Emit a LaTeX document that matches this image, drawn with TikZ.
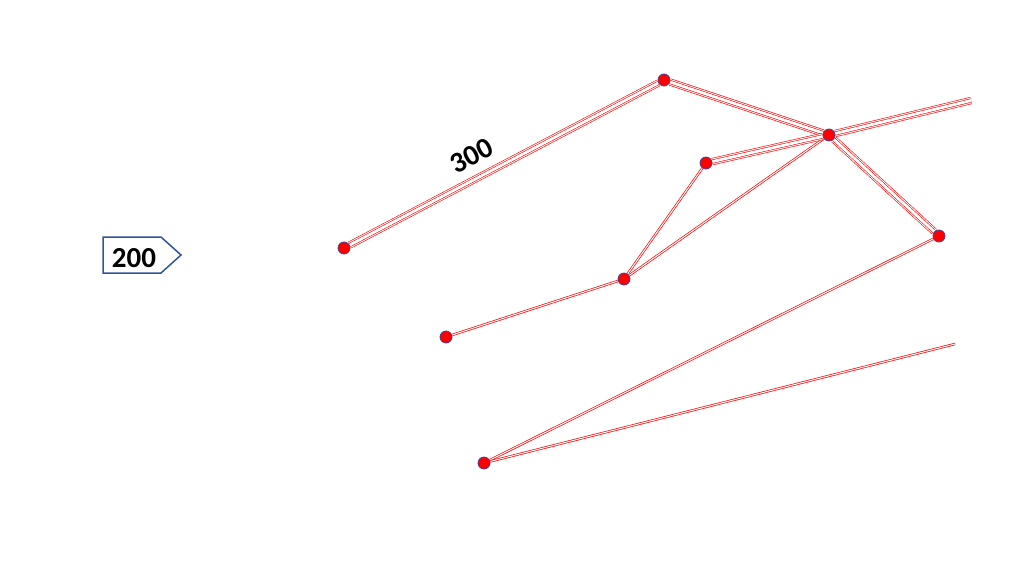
\documentclass[tikz,border=0pt]{standalone}
\usepackage{fontspec}
\setmainfont{Carlito}
\usetikzlibrary{backgrounds}
\definecolor{boxblue}{HTML}{2F5597}
\definecolor{dotedge}{HTML}{4A3F8C}
\tikzset{
  pt/.style={circle, fill=red, draw=dotedge, line width=0.8pt, minimum size=12pt, inner sep=0pt},
  wideline/.style={preaction={draw=red, line width=7.2pt},
                   preaction={draw=white, line width=6pt},
                   preaction={draw=red, line width=4pt},
                   draw=white, line width=2.8pt},
  thinline/.style={preaction={draw=red, line width=2.4pt},
                   draw=white, line width=1pt},
  lbl/.style={font=\bfseries\fontsize{29}{29}\selectfont, inner sep=0pt}
}
\begin{document}
\begin{tikzpicture}[x=1pt, y=-1pt]
\useasboundingbox (0,0) rectangle (1024,576);
% nodes
\node[pt] (A) at (664,80) {};
\node[pt] (B) at (829,135) {};
\node[pt] (C) at (706,163) {};
\node[pt] (D) at (624,279) {};
\node[pt] (E) at (939,236) {};
\node[pt] (F) at (344,248) {};
\node[pt] (G) at (446,337) {};
\node[pt] (H) at (484,463) {};
\coordinate (R1) at (971,100.5);
\coordinate (R2) at (955,344);
% connectors
\begin{scope}[on background layer]
\draw[thinline] (C) -- (D);
\draw[thinline] (D) -- (B);
\draw[thinline] (G) -- (D);
\draw[thinline] (E) -- (H);
\draw[thinline] (H) -- (R2);
\draw[wideline] (F) -- (A);
\draw[wideline] (A) -- (B);
\draw[wideline] (B) -- (R1);
\draw[wideline] (C) -- (B);
\draw[wideline] (B) -- (E);
\end{scope}
% labels
\node[lbl, rotate=27.7] (L300) at (472,156) {300};
\coordinate (P1) at (103,237);
\coordinate (P2) at (161,237);
\coordinate (P3) at (181,255);
\coordinate (P4) at (161,273);
\coordinate (P5) at (103,273);
\draw[boxblue, line width=1.5pt, line join=miter, fill=white] (P1) -- (P2) -- (P3) -- (P4) -- (P5) -- cycle;
\node[lbl] (L200) at (134,258) {200};
\end{tikzpicture}
\end{document}
